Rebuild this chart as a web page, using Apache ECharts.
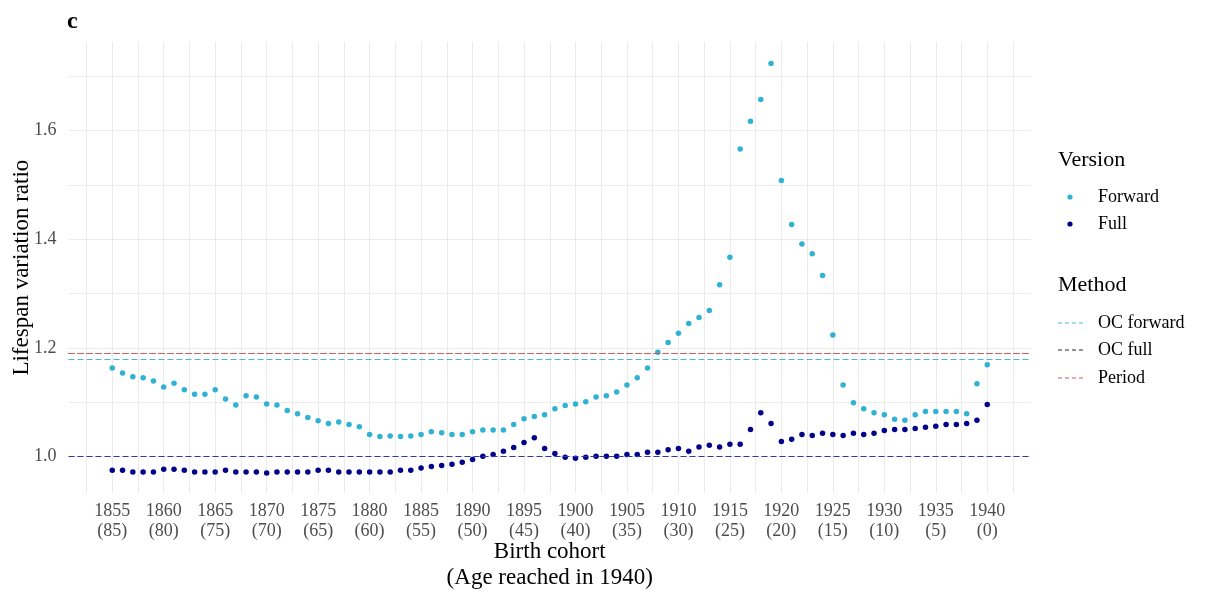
<!DOCTYPE html>
<html>
<head>
<meta charset="utf-8">
<script src="https://cdn.jsdelivr.net/npm/echarts@6/dist/echarts.min.js"></script>
<style>
  html, body { margin: 0; padding: 0; background: #ffffff; }
  #chart { width: 1208px; height: 595px; }
</style>
</head>
<body>
<div id="chart"></div>
<script>
// Birth cohorts, one point per year
const years = [
  1855, 1856, 1857, 1858, 1859, 1860, 1861, 1862, 1863, 1864,
  1865, 1866, 1867, 1868, 1869, 1870, 1871, 1872, 1873, 1874,
  1875, 1876, 1877, 1878, 1879, 1880, 1881, 1882, 1883, 1884,
  1885, 1886, 1887, 1888, 1889, 1890, 1891, 1892, 1893, 1894,
  1895, 1896, 1897, 1898, 1899, 1900, 1901, 1902, 1903, 1904,
  1905, 1906, 1907, 1908, 1909, 1910, 1911, 1912, 1913, 1914,
  1915, 1916, 1917, 1918, 1919, 1920, 1921, 1922, 1923, 1924,
  1925, 1926, 1927, 1928, 1929, 1930, 1931, 1932, 1933, 1934,
  1935, 1936, 1937, 1938, 1939, 1940
];

// Lifespan variation ratio, forward version
const forwardRatio = [
  1.163, 1.154, 1.147, 1.145, 1.139, 1.128, 1.135, 1.123, 1.115, 1.115,
  1.123, 1.106, 1.095, 1.112, 1.110, 1.097, 1.095, 1.085, 1.079, 1.072,
  1.066, 1.061, 1.064, 1.059, 1.055, 1.041, 1.037, 1.038, 1.037, 1.038,
  1.041, 1.046, 1.044, 1.041, 1.041, 1.046, 1.049, 1.049, 1.049, 1.059,
  1.070, 1.074, 1.077, 1.088, 1.094, 1.097, 1.101, 1.110, 1.112, 1.119,
  1.132, 1.145, 1.163, 1.192, 1.210, 1.227, 1.245, 1.256, 1.269, 1.316,
  1.367, 1.566, 1.617, 1.657, 1.723, 1.508, 1.427, 1.391, 1.373, 1.333,
  1.224, 1.132, 1.099, 1.088, 1.081, 1.077, 1.069, 1.067, 1.077, 1.083,
  1.083, 1.083, 1.083, 1.079, 1.134, 1.169
];

// Lifespan variation ratio, full version
const fullRatio = [
  0.975, 0.975, 0.972, 0.972, 0.972, 0.977, 0.977, 0.975, 0.972, 0.972,
  0.972, 0.975, 0.972, 0.972, 0.972, 0.970, 0.972, 0.972, 0.972, 0.972,
  0.975, 0.975, 0.972, 0.972, 0.972, 0.972, 0.972, 0.972, 0.975, 0.975,
  0.979, 0.982, 0.984, 0.986, 0.990, 0.995, 1.001, 1.004, 1.010, 1.017,
  1.026, 1.035, 1.015, 1.006, 0.999, 0.997, 0.999, 1.001, 1.001, 1.001,
  1.004, 1.004, 1.008, 1.008, 1.013, 1.015, 1.010, 1.018, 1.021, 1.018,
  1.023, 1.023, 1.050, 1.081, 1.061, 1.028, 1.032, 1.041, 1.039, 1.043,
  1.041, 1.039, 1.043, 1.041, 1.043, 1.048, 1.050, 1.050, 1.052, 1.054,
  1.056, 1.059, 1.059, 1.061, 1.067, 1.096
];

// Tick labels
const tickYears = [1855, 1860, 1865, 1870, 1875, 1880, 1885, 1890, 1895,
                   1900, 1905, 1910, 1915, 1920, 1925, 1930, 1935, 1940];
const referenceYear = 1940;
const yTickLabels = [1.0, 1.2, 1.4, 1.6];
const yGridValues = [1.0, 1.1, 1.2, 1.3, 1.4, 1.5, 1.6, 1.7];

// Horizontal reference levels per method
const methodNames = ['OC forward', 'OC full', 'Period'];
const methodLevels = [1.184, 1.189, 1.194];
const baselineLevel = 1.0;

const FONT = '"Liberation Serif", "DejaVu Serif", serif';
const COL_FORWARD = '#30b2d2';
const COL_FULL = '#00008b';
const METHOD_COLORS = ['#45bbd8', '#2b2b2b', '#cc5f5f'];
const COL_BASE = '#3535a8';

// Vertical grid every half tick step
const xGrid = [];
for (let i = 0; i < tickYears.length; i++) {
  xGrid.push(tickYears[i]);
  if (i < tickYears.length - 1) xGrid.push((tickYears[i] + tickYears[i + 1]) / 2);
}
xGrid.unshift(tickYears[0] - 2.5);
xGrid.push(tickYears[tickYears.length - 1] + 2.5);

const chart = echarts.init(document.getElementById('chart'), null, { renderer: 'canvas' });

function refLine(name, value, color) {
  return {
    name: name,
    type: 'line',
    data: [],
    silent: true,
    z: 1,
    markLine: {
      silent: true,
      animation: false,
      symbol: ['none', 'none'],
      label: { show: false },
      lineStyle: { color: color, type: [6, 3], width: 1.1 },
      data: [{ yAxis: value }]
    }
  };
}

const series = [
  refLine('baseline', baselineLevel, COL_BASE),
  ...methodNames.map((n, i) => refLine(n, methodLevels[i], METHOD_COLORS[i])),
  {
    name: 'Forward',
    type: 'scatter',
    symbol: 'circle',
    symbolSize: 5.5,
    z: 3,
    itemStyle: { color: COL_FORWARD, opacity: 1 },
    data: years.map((y, i) => [y, forwardRatio[i]])
  },
  {
    name: 'Full',
    type: 'scatter',
    symbol: 'circle',
    symbolSize: 5.5,
    z: 3,
    itemStyle: { color: COL_FULL, opacity: 1 },
    data: years.map((y, i) => [y, fullRatio[i]])
  }
];

const legendX = 1058;
const keyText = { fontFamily: FONT, fontSize: 18, fill: '#000' };
const titleText = { fontFamily: FONT, fontSize: 22, fill: '#000' };

const graphic = [
  { type: 'text', left: 67, top: 10, style: { text: 'c', fontFamily: FONT, fontSize: 24, fontWeight: 'bold', fill: '#000' } },
  { type: 'text', x: legendX, y: 160, style: Object.assign({ text: 'Version', verticalAlign: 'middle' }, titleText) },
  { type: 'circle', shape: { cx: 1070, cy: 197, r: 2.6 }, style: { fill: COL_FORWARD } },
  { type: 'text', x: 1098, y: 197, style: Object.assign({ text: 'Forward', verticalAlign: 'middle' }, keyText) },
  { type: 'circle', shape: { cx: 1070, cy: 224, r: 2.6 }, style: { fill: COL_FULL } },
  { type: 'text', x: 1098, y: 224, style: Object.assign({ text: 'Full', verticalAlign: 'middle' }, keyText) },
  { type: 'text', x: legendX, y: 285, style: Object.assign({ text: 'Method', verticalAlign: 'middle' }, titleText) }
];
const methodKeyY = [323, 350, 378];
methodNames.forEach((n, i) => {
  graphic.push({
    type: 'line',
    shape: { x1: 1058, y1: methodKeyY[i], x2: 1084, y2: methodKeyY[i] },
    style: { stroke: METHOD_COLORS[i], lineWidth: 1.1, lineDash: [4, 3] }
  });
  graphic.push({
    type: 'text', x: 1098, y: methodKeyY[i],
    style: Object.assign({ text: n, verticalAlign: 'middle' }, keyText)
  });
});

const option = {
  backgroundColor: '#ffffff',
  animation: false,
  grid: { left: 68.5, right: 177, top: 42, bottom: 101.7, containLabel: false, outerBoundsMode: 'none' },
  xAxis: {
    type: 'value',
    min: 1850.75,
    max: 1944.25,
    name: 'Birth cohort\n(Age reached in 1940)',
    nameLocation: 'middle',
    nameGap: 46,
    nameMoveOverlap: false,
    nameTextStyle: { fontFamily: FONT, fontSize: 23, color: '#000', lineHeight: 26 },
    axisLine: { show: false },
    axisTick: { show: false, customValues: xGrid },
    axisLabel: {
      customValues: tickYears,
      fontFamily: FONT, fontSize: 18, color: '#4d4d4d', lineHeight: 20, margin: 8,
      formatter: v => v + '\n(' + (referenceYear - v) + ')'
    },
    splitLine: { show: true, lineStyle: { color: '#ebebeb', width: 1 } }
  },
  yAxis: {
    type: 'value',
    min: 0.9327,
    max: 1.7626,
    name: 'Lifespan variation ratio',
    nameLocation: 'middle',
    nameGap: 35,
    nameMoveOverlap: false,
    nameRotate: 90,
    nameTextStyle: { fontFamily: FONT, fontSize: 23, color: '#000' },
    axisLine: { show: false },
    axisTick: { show: false, customValues: yGridValues },
    axisLabel: {
      customValues: yTickLabels,
      fontFamily: FONT, fontSize: 18, color: '#4d4d4d', margin: 12,
      formatter: v => v.toFixed(1)
    },
    splitLine: { show: true, lineStyle: { color: '#ebebeb', width: 1 } }
  },
  graphic: graphic,
  series: series
};

chart.setOption(option);
</script>
</body>
</html>
